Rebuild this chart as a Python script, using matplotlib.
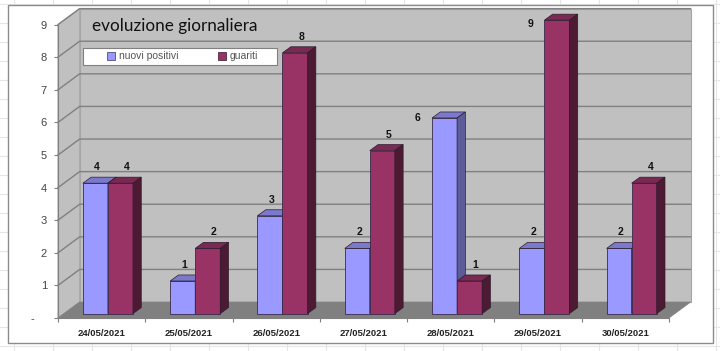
import matplotlib
matplotlib.use("Agg")
import matplotlib.pyplot as plt
from matplotlib.lines import Line2D
from matplotlib.patches import Patch, Polygon, Rectangle
import numpy as np

# Data
dates = ["24/05/2021", "25/05/2021", "26/05/2021", "27/05/2021",
         "28/05/2021", "29/05/2021", "30/05/2021"]
nuovi_positivi = [4, 1, 3, 2, 6, 2, 2]
guariti = [4, 2, 8, 5, 1, 9, 4]
y_labels = ["-    ", "1", "2", "3", "4", "5", "6", "7", "8", "9"]

W, H = 720, 351
fig = plt.figure(figsize=(W / 100, H / 100), dpi=100)
plt.rcParams["font.family"] = ["Liberation Sans", "DejaVu Sans"]

# spreadsheet cells behind the chart
for px in np.arange(14, W, 39):
    fig.add_artist(Line2D([px / W, px / W], [0, 1], color="#e6e6e6", lw=0.8, zorder=0))
for py in np.arange(4, H, 19):
    fig.add_artist(Line2D([0, 1], [1 - py / H, 1 - py / H], color="#e6e6e6", lw=0.8, zorder=0))
fig.add_artist(Rectangle((7.5 / W, 1 - 343 / H), 705 / W, 338 / H, transform=fig.transFigure,
                         facecolor="white", edgecolor="#8c8c8c", lw=1.0, zorder=1))

ax = fig.add_axes([58 / W, 1 - 318 / H, 611 / W, 293.4 / H], zorder=2)
ax.set_xlim(-0.5, 6.5)
ax.set_ylim(0, 9)
ax.patch.set_visible(False)

# 3D box: walls and floor
wall_dx, wall_dy = 0.248, 0.49
wall_c, floor_c, line_c = "#c0c0c0", "#808080", "#808080"
ax.add_patch(Polygon([(-0.5 + wall_dx, wall_dy), (6.5 + wall_dx, wall_dy),
                      (6.5 + wall_dx, 9 + wall_dy), (-0.5 + wall_dx, 9 + wall_dy)],
                     fc=wall_c, ec="#a6a6a6", lw=0.8, clip_on=False, zorder=1))
ax.add_patch(Polygon([(-0.5, 0), (-0.5 + wall_dx, wall_dy), (-0.5 + wall_dx, 9 + wall_dy), (-0.5, 9)],
                     fc=wall_c, ec="#a6a6a6", lw=0.8, clip_on=False, zorder=1))
ax.add_patch(Polygon([(-0.5, 0), (6.5, 0), (6.5 + wall_dx, wall_dy), (-0.5 + wall_dx, wall_dy)],
                     fc=floor_c, ec=floor_c, lw=0.5, clip_on=False, zorder=2))
for v in range(1, 10):
    ax.plot([-0.5, -0.5 + wall_dx, 6.5 + wall_dx], [v, v + wall_dy, v + wall_dy],
            color=line_c, lw=1.0, clip_on=False, zorder=2)

# bars
x = np.arange(len(dates))
bar_w = 0.287
shift = 0.072
base = 0.135
depth_x, depth_y = 0.095, 0.185


def draw_bars(xs, values, face, top, side, z):
    bars = ax.bar(xs, values, width=bar_w, bottom=base, color=face, edgecolor="#3a2a4a", lw=0.6, zorder=z)
    for b in bars:
        b.set_clip_on(False)
    for xc, v in zip(xs, values):
        l, r, t = xc - bar_w / 2, xc + bar_w / 2, v + base
        ax.add_patch(Polygon([(l, t), (r, t), (r + depth_x, t + depth_y), (l + depth_x, t + depth_y)],
                             fc=top, ec="#2e1a2e", lw=0.5, clip_on=False, zorder=z))
        ax.add_patch(Polygon([(r, base), (r + depth_x, base + depth_y), (r + depth_x, t + depth_y), (r, t)],
                             fc=side, ec="#2e1a2e", lw=0.5, clip_on=False, zorder=z))


draw_bars(x + shift - bar_w / 2, nuovi_positivi, "#9999ff", "#7a7acc", "#5c5c99", 3)
draw_bars(x + shift + bar_w / 2, guariti, "#993366", "#7a2952", "#4d1a33", 4)

# value labels, two of them were dragged aside in the original
for i, v in enumerate(nuovi_positivi):
    lx, ly = x[i] + shift - bar_w / 2 + 0.02, v + base + 0.49
    if v == max(nuovi_positivi):
        lx, ly = lx - 0.33, v + base + 0.0
    ax.text(lx, ly, str(v), ha="center", va="center", fontsize=7.5, fontweight="bold",
            color="#111111", clip_on=False, zorder=6)
for i, v in enumerate(guariti):
    lx, ly = x[i] + shift + bar_w / 2 + 0.07, v + base + 0.49
    if v == max(guariti):
        lx, ly = lx - 0.24 - 0.13, v + base - 0.13
    ax.text(lx, ly, str(v), ha="center", va="center", fontsize=7.5, fontweight="bold",
            color="#111111", clip_on=False, zorder=6)

# axes
ax.set_yticks(range(10))
ax.set_yticklabels(y_labels, fontsize=8, color="#444444")
ax.set_xticks(np.arange(-0.5, 7, 1), minor=False)
ax.set_xticklabels([])
ax.set_xticks(x, minor=True)
ax.set_xticklabels(dates, minor=True, fontsize=6.8, fontweight="bold", color="#222222")
ax.tick_params(axis="y", length=3, width=0.8, color="#808080", pad=5)
ax.tick_params(axis="x", which="major", length=3, width=0.8, color="#808080")
ax.tick_params(axis="x", which="minor", length=0, pad=8)
for side_name in ["top", "right"]:
    ax.spines[side_name].set_visible(False)
for side_name in ["left", "bottom"]:
    ax.spines[side_name].set_color("#808080")
    ax.spines[side_name].set_linewidth(0.8)

# title and legend inside the wall
fig.text(92 / W, 1 - 26 / H, "evoluzione giornaliera", fontsize=12.3, family="Lato",
         color="#111111", ha="left", va="center", zorder=5)
ax.add_patch(Rectangle((83 / W, 1 - 64.5 / H), 194 / W, 16.5 / H, transform=fig.transFigure,
                       facecolor="white", edgecolor="#808080", lw=0.8, clip_on=False, zorder=4.5))
handles = [Patch(fc="#9999ff", ec="#333366", lw=0.5), Patch(fc="#993366", ec="#331122", lw=0.5)]
leg = ax.legend(handles, ["nuovi positivi", "guariti"], ncol=2, loc="center left",
                bbox_to_anchor=(107 / W, 1 - 56.3 / H), bbox_transform=fig.transFigure,
                frameon=False, fontsize=7.5, labelcolor="#555555", handlelength=0.8,
                handleheight=0.8, handletextpad=0.35, columnspacing=3.8, borderpad=0, borderaxespad=0)
leg.set_zorder(5)

fig.savefig("out.png", dpi=100)
